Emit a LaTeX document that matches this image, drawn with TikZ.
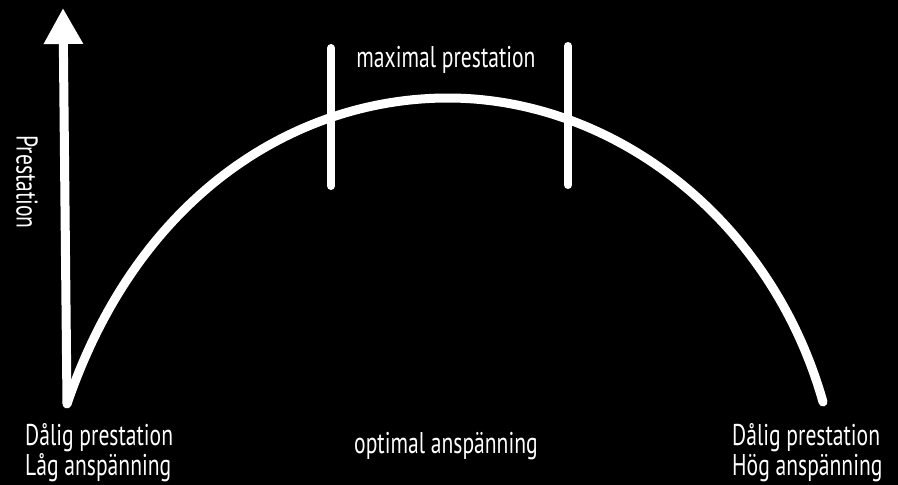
\documentclass[tikz,border=0pt]{standalone}
\usepackage{fontspec}
\setmainfont{PT Sans}
\newfontfamily\handfont[FakeStretch=0.72]{PT Sans}
\usetikzlibrary{arrows.meta}

\begin{document}
\begin{tikzpicture}[x=1pt,y=-1pt,
    chalk/.style={white,line width=9pt,line cap=round},
    txt/.style={white,font=\handfont\fontsize{30}{32}\selectfont,inner sep=0pt}]
  \fill[black] (0,0) rectangle (898,485);
  % axis and curve
  \coordinate (o) at (67,404);
  \coordinate (top) at (63,8);
  \coordinate (peak) at (448,98);
  \coordinate (end) at (823,402);
  \draw[chalk,line cap=butt,-{Triangle[width=37pt,length=36pt]}] (o) -- (top);
  \draw[chalk] (o) .. controls (140,190) and (300,98) .. (peak)
                   .. controls (610,98) and (770,215) .. (end);
  % ticks for the optimal zone
  \coordinate (l1) at (331,48);
  \coordinate (l2) at (331,186);
  \coordinate (r1) at (568,46);
  \coordinate (r2) at (568,185);
  \draw[chalk,line width=8pt] (l1) -- (l2);
  \draw[chalk,line width=8pt] (r1) -- (r2);
  % texts
  \node[txt,anchor=base] (maxp) at (446,67) {maximal prestation};
  \node[txt,anchor=base] (opt) at (446,453) {optimal anspänning};
  \node[txt,rotate=-90] (prest) at (27,182) {Prestation};
  \node[txt,anchor=base west] (dl) at (25,445) {Dålig prestation};
  \node[txt,anchor=base west] (ll) at (25,475) {Låg anspänning};
  \node[txt,anchor=base west] (dr) at (732,445) {Dålig prestation};
  \node[txt,anchor=base west] (hr) at (732,475) {Hög anspänning};
\end{tikzpicture}
\end{document}
